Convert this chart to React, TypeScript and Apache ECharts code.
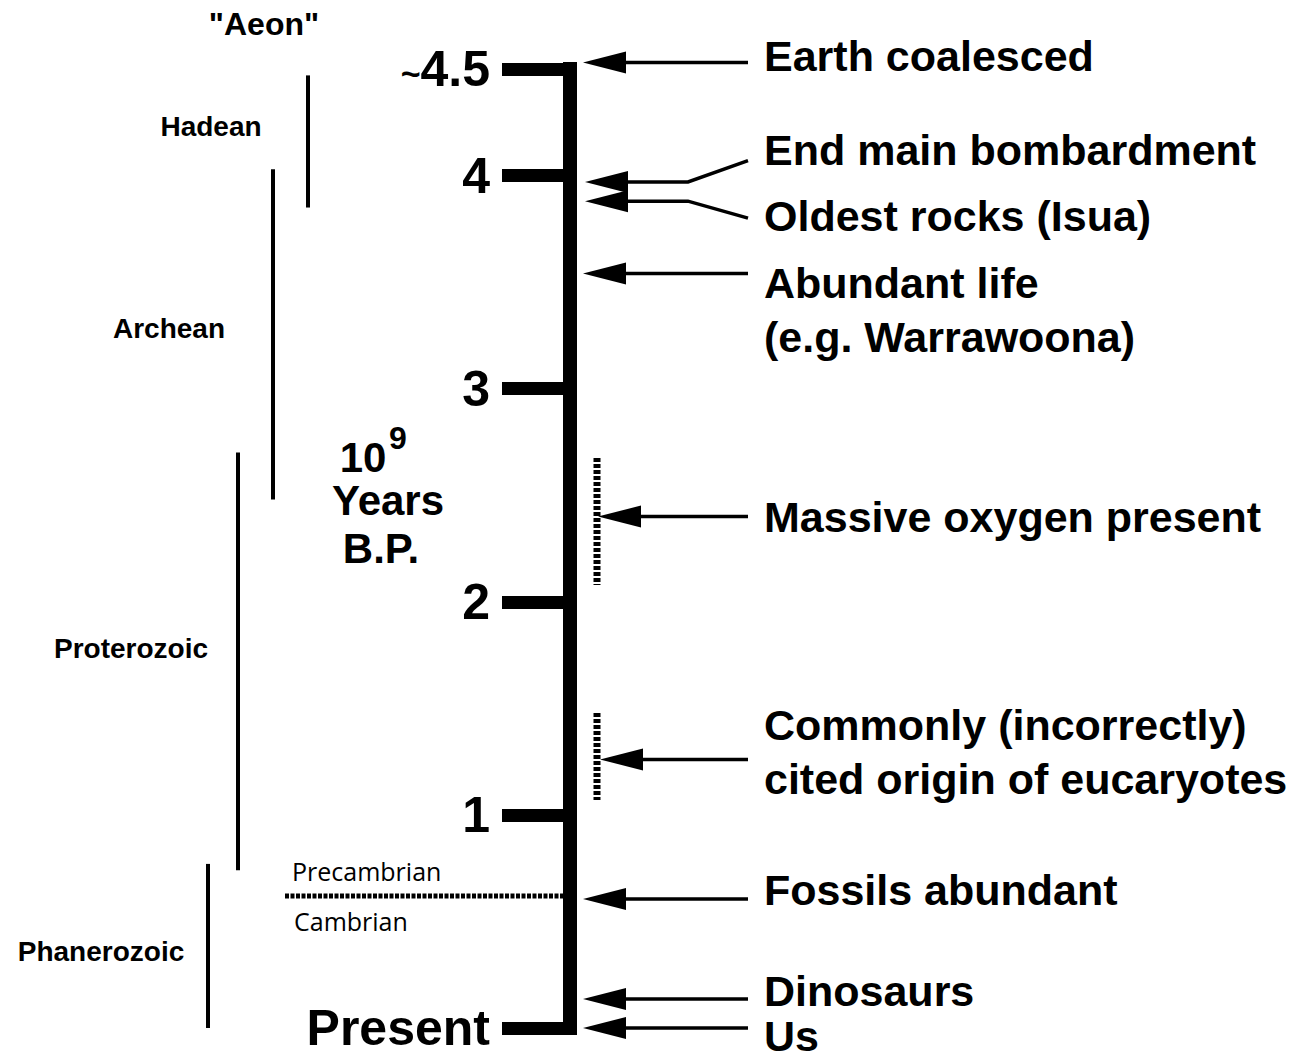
import { useEffect, useRef } from "react";
import * as echarts from "echarts";

// ---------------- data (ages in 10^9 years before present) ----------------
const TICK_VALUES = [0, 1, 2, 3, 4, 4.5];
const TICK_LABELS = ["Present", "1", "2", "3", "4", "~4.5"];

const AEON_NAMES = ["Hadean", "Archean", "Proterozoic", "Phanerozoic"];
const AEON_FROM = [4.47, 4.03, 2.7, 0.77];
const AEON_TO = [3.85, 2.48, 0.74, 0.0];
const AEON_LABEL_AGES = [4.23, 3.28, 1.78, 0.36];

const EVENT_NAMES = [
  "Earth coalesced",
  "End main bombardment",
  "Oldest rocks (Isua)",
  "Abundant life\n(e.g. Warrawoona)",
  "Massive oxygen present",
  "Commonly (incorrectly)\ncited origin of eucaryotes",
  "Fossils abundant",
  "Dinosaurs",
  "Us",
];
const EVENT_AGES = [4.53, 3.97, 3.88, 3.54, 2.4, 1.26, 0.605, 0.136, 0.0];
const EVENT_TAIL_AGES = [4.53, 4.07, 3.8, 3.54, 2.4, 1.26, 0.605, 0.136, 0.0];
const EVENT_LABEL_AGES = [4.56, 4.12, 3.81, 3.37, 2.4, 1.295, 0.648, 0.174, -0.036];

const UNCERTAIN_FROM = [2.675, 1.478];
const UNCERTAIN_TO = [2.079, 1.07];

const CAMBRIAN_BOUNDARY = 0.619;
const ERA_NAMES = ["Precambrian", "Cambrian"];
const ERA_LABEL_AGES = [0.737, 0.502];

const AXIS_TITLE = ["\"Aeon\"", "10", "9", "Years", "B.P."];
const AXIS_TITLE_AGES = [4.711, 2.675, 2.768, 2.473, 2.252];

// ---------------- layout (horizontal positions, px) ----------------
const SPINE_X = 570;
const AEON_X = [308, 273, 238, 208];
const AEON_LABEL_X = [211, 169, 131, 101];
const EVENT_TIP_X = [583, 585, 585, 583, 598, 600, 583, 583, 583];
const BEND_X = 688;
const TAIL_X = 748;
const EVENT_LABEL_X = 764;
const UNCERTAIN_X = 597;
const BOUNDARY_X0 = 285;
const BOUNDARY_X1 = 563;
const ERA_LABEL_X = [292, 294];
const AXIS_TITLE_X = [264, 363, 398, 388, 381];
const AXIS_TITLE_SIZE = [32, 42, 32, 42, 42];

const FONT = '"Liberation Sans", Arial, Helvetica, sans-serif';

function textSeries(
  name: string,
  xs: number[],
  ages: number[],
  texts: string[],
  style: (i: number) => any
) {
  return {
    type: "custom",
    name,
    coordinateSystem: "cartesian2d",
    silent: true,
    clip: false,
    data: ages.map((a, i) => [xs[i], a]),
    renderItem: (params: any, api: any) => {
      const p = api.coord([api.value(0), api.value(1)]);
      return {
        type: "text",
        x: p[0],
        y: p[1],
        style: {
          text: texts[params.dataIndex],
          fill: "#000",
          fontFamily: FONT,
          ...style(params.dataIndex),
        },
      };
    },
  };
}

export default function App() {
  const ref = useRef<HTMLDivElement>(null);

  useEffect(() => {
    const chart = echarts.init(ref.current!, null, { renderer: "svg" });

    const option: any = {
      animation: false,
      backgroundColor: "#fff",
      grid: { left: 0, right: 0, top: 69, bottom: 31 },
      xAxis: { type: "value", min: 0, max: 1300, show: false },
      yAxis: {
        type: "value",
        min: 0,
        max: 4.5,
        position: "left",
        offset: -SPINE_X,
        splitLine: { show: false },
        axisLine: {
          show: true,
          lineStyle: { color: "#000", width: 14, cap: "square" },
        },
        axisTick: {
          show: true,
          inside: false,
          length: 68,
          customValues: TICK_VALUES,
          lineStyle: { color: "#000", width: 13 },
        },
        axisLabel: {
          show: true,
          margin: 80,
          showMinLabel: true,
          showMaxLabel: true,
          customValues: TICK_VALUES,
          color: "#000",
          fontFamily: FONT,
          fontWeight: "bold",
          fontSize: 50,
          formatter: (v: number) => {
            const idx = TICK_VALUES.findIndex((t) => Math.abs(t - v) < 1e-6);
            const s = idx >= 0 ? TICK_LABELS[idx] : "";
            if (s.startsWith("~")) return "{t|~}{n|" + s.slice(1) + "}";
            return "{n|" + s + "}";
          },
          rich: {
            n: { fontSize: 50, fontWeight: "bold", fontFamily: FONT, color: "#000" },
            t: {
              fontSize: 34,
              fontWeight: "bold",
              fontFamily: FONT,
              color: "#000",
              verticalAlign: "middle",
              padding: [8, 0, 0, 0],
            },
          },
        },
      },
      series: [
        // aeon bars
        {
          type: "custom",
          name: "aeons",
          coordinateSystem: "cartesian2d",
          silent: true,
          clip: false,
          data: AEON_FROM.map((f, i) => [AEON_X[i], f, AEON_TO[i]]),
          renderItem: (params: any, api: any) => {
            const a = api.coord([api.value(0), api.value(1)]);
            const b = api.coord([api.value(0), api.value(2)]);
            return {
              type: "line",
              shape: { x1: a[0], y1: a[1], x2: b[0], y2: b[1] },
              style: { stroke: "#000", lineWidth: 4 },
            };
          },
        },
        textSeries("aeonLabels", AEON_LABEL_X, AEON_LABEL_AGES, AEON_NAMES, () => ({
          fontSize: 28,
          fontWeight: "bold",
          align: "center",
          verticalAlign: "middle",
        })),
        // uncertainty bars
        {
          type: "custom",
          name: "uncertain",
          coordinateSystem: "cartesian2d",
          silent: true,
          clip: false,
          data: UNCERTAIN_FROM.map((f, i) => [UNCERTAIN_X, f, UNCERTAIN_TO[i]]),
          renderItem: (params: any, api: any) => {
            const a = api.coord([api.value(0), api.value(1)]);
            const b = api.coord([api.value(0), api.value(2)]);
            return {
              type: "line",
              shape: { x1: a[0], y1: a[1], x2: b[0], y2: b[1] },
              style: { stroke: "#000", lineWidth: 7, lineDash: [4, 2] },
            };
          },
        },
        // Precambrian / Cambrian boundary
        {
          type: "custom",
          name: "boundary",
          coordinateSystem: "cartesian2d",
          silent: true,
          clip: false,
          data: [[BOUNDARY_X0, CAMBRIAN_BOUNDARY, BOUNDARY_X1]],
          renderItem: (params: any, api: any) => {
            const a = api.coord([api.value(0), api.value(1)]);
            const b = api.coord([api.value(2), api.value(1)]);
            return {
              type: "line",
              shape: { x1: a[0], y1: a[1], x2: b[0], y2: b[1] },
              style: { stroke: "#000", lineWidth: 5, lineDash: [4, 1.5] },
            };
          },
        },
        textSeries("eras", ERA_LABEL_X, ERA_LABEL_AGES, ERA_NAMES, () => ({
          fontFamily: '"Open Sans", "DejaVu Sans", sans-serif',
          fontSize: 25,
          fontWeight: "normal",
          align: "left",
          verticalAlign: "middle",
        })),
        // event arrows
        {
          type: "custom",
          name: "arrows",
          coordinateSystem: "cartesian2d",
          silent: true,
          clip: false,
          data: EVENT_AGES.map((a, i) => [EVENT_TIP_X[i], a, EVENT_TAIL_AGES[i]]),
          renderItem: (params: any, api: any) => {
            const tip = api.coord([api.value(0), api.value(1)]);
            const bend = api.coord([BEND_X, api.value(1)]);
            const end = api.coord([TAIL_X, api.value(2)]);
            const headLen = 43;
            const headHalf = 11;
            return {
              type: "group",
              children: [
                {
                  type: "polyline",
                  shape: {
                    points: [
                      [tip[0] + headLen - 2, tip[1]],
                      [bend[0], bend[1]],
                      [end[0], end[1]],
                    ],
                  },
                  style: { stroke: "#000", lineWidth: 3.5, fill: null, lineJoin: "miter" },
                },
                {
                  type: "polygon",
                  shape: {
                    points: [
                      [tip[0], tip[1]],
                      [tip[0] + headLen, tip[1] - headHalf],
                      [tip[0] + headLen, tip[1] + headHalf],
                    ],
                  },
                  style: { fill: "#000", stroke: null },
                },
              ],
            };
          },
        },
        textSeries(
          "eventLabels",
          EVENT_NAMES.map(() => EVENT_LABEL_X),
          EVENT_LABEL_AGES,
          EVENT_NAMES,
          () => ({
            fontSize: 43,
            fontWeight: "bold",
            align: "left",
            verticalAlign: "middle",
            lineHeight: 54,
          })
        ),
        textSeries("axisTitle", AXIS_TITLE_X, AXIS_TITLE_AGES, AXIS_TITLE, (i) => ({
          fontSize: AXIS_TITLE_SIZE[i],
          fontWeight: "bold",
          align: "center",
          verticalAlign: "middle",
        })),
      ],
    };

    chart.setOption(option);
    return () => chart.dispose();
  }, []);

  return (
    <div
      ref={ref}
      style={{ position: "absolute", left: 0, top: 0, width: 1300, height: 1059, background: "#fff" }}
    />
  );
}
